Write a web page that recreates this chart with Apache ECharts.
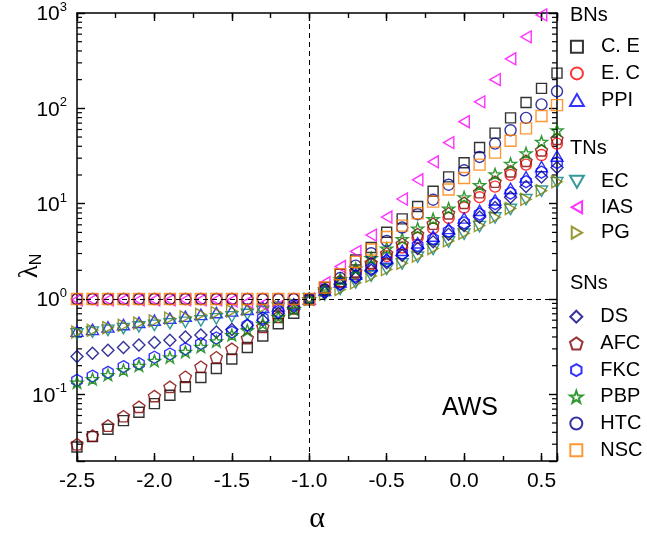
<!DOCTYPE html>
<html>
<head>
<meta charset="utf-8">
<script src="https://cdn.jsdelivr.net/npm/echarts@6/dist/echarts.min.js"></script>
<style>
  html, body { margin: 0; padding: 0; background: #fff; }
  #main { width: 647px; height: 538px; }
</style>
</head>
<body>
<div id="main"></div>
<script>
// alpha values (x)
var alpha = [-2.5, -2.4, -2.3, -2.2, -2.1, -2.0, -1.9, -1.8, -1.7, -1.6, -1.5, -1.4, -1.3, -1.2, -1.1, -1.0,
             -0.9, -0.8, -0.7, -0.6, -0.5, -0.4, -0.3, -0.2, -0.1, 0.0, 0.1, 0.2, 0.3, 0.4, 0.5, 0.6];

// lambda_N
var ceVals  = [0.028, 0.036, 0.043, 0.053, 0.065, 0.080, 0.098, 0.12, 0.15, 0.187, 0.235, 0.31, 0.41, 0.55, 0.71, 1,
               1.32, 1.82, 2.57, 3.47, 5.01, 6.92, 9.33, 13.5, 19.1, 26.9, 38.9, 55.0, 79.4, 115, 162, 234];
var ecbVals = [1, 1, 1, 1, 1, 1, 1, 1, 1, 1, 1, 1, 1, 1, 1, 1,
               1.23, 1.51, 1.86, 2.29, 2.82, 3.47, 4.37, 5.50, 7.08, 9.12, 11.7, 15.1, 20.0, 25.7, 32.4, 42.7];
var ppiVals = [0.46, 0.48, 0.51, 0.54, 0.57, 0.60, 0.63, 0.66, 0.69, 0.72, 0.75, 0.78, 0.82, 0.85, 0.89, 1,
               1.23, 1.51, 1.82, 2.24, 2.69, 3.24, 3.89, 4.57, 5.50, 7.08, 8.51, 11.0, 14.5, 19.1, 24.5, 31.6];
var ectVals = [0.43, 0.45, 0.47, 0.49, 0.51, 0.53, 0.55, 0.57, 0.59, 0.62, 0.65, 0.69, 0.74, 0.80, 0.87, 1,
               1.10, 1.26, 1.48, 1.74, 2.04, 2.34, 2.75, 3.31, 3.98, 4.79, 5.75, 7.08, 8.71, 11.0, 13.5, 16.6];
var iasVals = [0.98, 0.98, 0.98, 0.98, 0.98, 0.98, 0.98, 0.98, 0.98, 0.98, 0.96, 0.93, 0.88, 0.84, 0.87, 1,
               1.48, 2.19, 3.16, 4.68, 7.24, 11.2, 17.8, 27.5, 43.7, 72.4, 117, 200, 331, 562, 955, 1585];
var pgVals  = [0.45, 0.47, 0.50, 0.53, 0.56, 0.59, 0.63, 0.65, 0.69, 0.72, 0.75, 0.78, 0.82, 0.845, 0.88, 1,
               1.12, 1.26, 1.48, 1.74, 2.04, 2.37, 2.82, 3.39, 4.07, 4.90, 5.89, 7.19, 8.91, 11.1, 13.7, 17.0];
var dsVals  = [0.25, 0.27, 0.29, 0.31, 0.33, 0.35, 0.37, 0.40, 0.42, 0.45, 0.48, 0.53, 0.60, 0.71, 0.82, 1,
               1.17, 1.41, 1.66, 2.00, 2.40, 2.88, 3.39, 3.98, 4.79, 5.89, 7.24, 9.12, 11.7, 15.1, 19.1, 24.0];
var afcVals = [0.030, 0.037, 0.047, 0.059, 0.074, 0.096, 0.12, 0.153, 0.195, 0.245, 0.30, 0.39, 0.51, 0.65, 0.80, 1,
               1.26, 1.55, 1.95, 2.40, 3.02, 3.80, 4.79, 6.17, 7.94, 10.2, 13.2, 17.0, 21.9, 28.2, 36.3, 47.9];
var fkcVals = [0.14, 0.155, 0.17, 0.195, 0.21, 0.245, 0.265, 0.30, 0.34, 0.39, 0.45, 0.53, 0.63, 0.74, 0.86, 1,
               1.20, 1.45, 1.74, 2.09, 2.51, 3.02, 3.63, 4.27, 5.13, 6.31, 7.76, 10.0, 12.9, 17.0, 21.4, 26.9];
var pbpVals = [0.133, 0.145, 0.16, 0.18, 0.20, 0.225, 0.245, 0.28, 0.315, 0.36, 0.42, 0.47, 0.55, 0.65, 0.78, 1,
               1.26, 1.62, 2.09, 2.69, 3.39, 4.27, 5.50, 6.92, 8.91, 11.7, 15.7, 20.4, 26.3, 33.9, 44.7, 58.9];
var htcVals = [1, 1, 1, 1, 1, 1, 1, 1, 1, 1, 1, 1, 1, 1, 1, 1,
               1.26, 1.66, 2.24, 3.02, 4.07, 5.62, 7.76, 11.0, 15.8, 22.4, 30.9, 42.7, 58.9, 79.4, 110, 151];
var nscVals = [1, 1, 1, 1, 1, 1, 1, 1, 1, 1, 1, 1, 1, 1, 1, 1,
               1.32, 1.82, 2.45, 3.31, 4.47, 5.89, 7.94, 10.5, 14.1, 18.6, 25.7, 34.3, 45.7, 61.7, 83.2, 108];

// minor ticks of the log axis
var minorVals = [0.03, 0.04, 0.05, 0.06, 0.07, 0.08, 0.09,
                 0.2, 0.3, 0.4, 0.5, 0.6, 0.7, 0.8, 0.9,
                 2, 3, 4, 5, 6, 7, 8, 9,
                 20, 30, 40, 50, 60, 70, 80, 90,
                 200, 300, 400, 500, 600, 700, 800, 900];

var X_MIN = -2.5, X_MAX = 0.6, Y_MIN = 0.02, Y_MAX = 1000;
var FONT = 'Liberation Sans';

// symbols (all paths so the legend keeps their aspect)
var SYM_SQUARE = 'path://M0,0 L10,0 L10,10 L0,10 Z';
var SYM_UP    = 'path://M5,0 L10,8.66 L0,8.66 Z';
var SYM_DOWN  = 'path://M0,0 L10,0 L5,8.66 Z';
var SYM_LEFT  = 'path://M0,5 L8.66,0 L8.66,10 Z';
var SYM_RIGHT = 'path://M0,0 L8.66,5 L0,10 Z';
var SYM_DIAM  = 'path://M5,0 L10,5 L5,10 L0,5 Z';
var SYM_PENT  = 'path://M10,0 L19.51,6.91 L15.88,18.09 L4.12,18.09 L0.49,6.91 Z';
var SYM_HEX   = 'path://M5,0 L9.33,2.5 L9.33,7.5 L5,10 L0.67,7.5 L0.67,2.5 Z';
var SYM_STAR  = 'path://M10,0 L12.35,6.76 L19.51,6.91 L13.8,11.24 L15.88,18.09 L10,14 L4.12,18.09 L6.2,11.24 L0.49,6.91 L7.65,6.76 Z';

function pairs(vals) {
    return alpha.map(function (a, i) { return [a, vals[i]]; });
}

function mk(name, vals, symbol, color, size) {
    return {
        name: name,
        type: 'scatter',
        data: pairs(vals),
        symbol: symbol,
        symbolSize: size || 11,
        symbolKeepAspect: true,
        itemStyle: { color: 'rgba(0,0,0,0)', borderColor: color, borderWidth: 1.4 },
        emphasis: { disabled: true },
        z: 3
    };
}

var series = [
    mk('C. E', ceVals, SYM_SQUARE, '#000000', 10),
    mk('E. C', ecbVals, 'circle', '#ff0000'),
    mk('PPI', ppiVals, SYM_UP, '#0000ff', 12),
    mk('EC', ectVals, SYM_DOWN, '#008080', 12),
    mk('IAS', iasVals, SYM_LEFT, '#ff00ff', 12),
    mk('PG', pgVals, SYM_RIGHT, '#808000', 12),
    mk('DS', dsVals, SYM_DIAM, '#000080', 12),
    mk('AFC', afcVals, SYM_PENT, '#800000', 12),
    mk('FKC', fkcVals, SYM_HEX, '#0000ff', 12),
    mk('PBP', pbpVals, SYM_STAR, '#008000', 12),
    mk('HTC', htcVals, 'circle', '#000090'),
    mk('NSC', nscVals, SYM_SQUARE, '#ff8000', 11)
];

// dashed guide lines
series[0].markLine = {
    silent: true,
    symbol: ['none', 'none'],
    label: { show: false },
    lineStyle: { color: '#000', type: [5, 4], width: 1 },
    data: [{ xAxis: -1 }, { yAxis: 1 }]
};

// minor ticks on the left and right of the log axis
series.push({
    type: 'custom',
    silent: true,
    data: minorVals.map(function (v) { return [X_MIN, v]; }),
    renderItem: function (params, api) {
        var v = api.value(1);
        var pl = api.coord([X_MIN, v]);
        var pr = api.coord([X_MAX, v]);
        var st = { stroke: '#000', lineWidth: 1.2 };
        return {
            type: 'group',
            children: [
                { type: 'line', shape: { x1: pl[0], y1: pl[1], x2: pl[0] + 5, y2: pl[1] }, style: st },
                { type: 'line', shape: { x1: pr[0] - 5, y1: pr[1], x2: pr[0], y2: pr[1] }, style: st }
            ]
        };
    },
    z: 2
});

function xAxisCfg(pos, interval, len, withLabel, withLine) {
    return {
        type: 'value',
        position: pos,
        min: X_MIN, max: X_MAX, interval: interval,
        axisLine: { show: withLine, onZero: false, lineStyle: { color: '#000', width: 1.5 } },
        axisTick: { show: true, inside: true, length: len, lineStyle: { color: '#000', width: 1.4 } },
        axisLabel: {
            show: withLabel,
            margin: 10,
            color: '#000',
            fontSize: 21,
            fontFamily: FONT,
            formatter: function (v) { return v > 0.55 ? '' : v.toFixed(1); }
        },
        splitLine: { show: false }
    };
}

var xMain = xAxisCfg('bottom', 0.5, 8, true, true);
xMain.name = 'α';
xMain.nameLocation = 'middle';
xMain.nameGap = 43;
xMain.nameTextStyle = { fontSize: 30, fontFamily: 'Liberation Serif', color: '#000' };

function yAxisCfg(pos, withLabel) {
    return {
        type: 'log',
        logBase: 10,
        position: pos,
        min: Y_MIN, max: Y_MAX,
        axisLine: { show: true, onZero: false, lineStyle: { color: '#000', width: 1.5 } },
        axisTick: { show: true, inside: true, length: 8, lineStyle: { color: '#000', width: 1.4 } },
        axisLabel: {
            show: withLabel,
            margin: 10,
            formatter: function (v) {
                var e = Math.round(Math.log10(v));
                if (Math.abs(v / Math.pow(10, e) - 1) > 1e-6) return '';
                return '{b|10}{s|' + e + '}';
            },
            rich: {
                b: { fontSize: 21, fontFamily: FONT, color: '#000', lineHeight: 24, verticalAlign: 'bottom' },
                s: { fontSize: 13, fontFamily: FONT, color: '#000', verticalAlign: 'top' }
            }
        },
        splitLine: { show: false }
    };
}

function legendCfg(names, top, gap) {
    return {
        data: names,
        orient: 'vertical',
        left: 564,
        top: top,
        itemWidth: 38,
        itemHeight: 12,
        itemGap: gap,
        symbolKeepAspect: true,
        selectedMode: false,
        textStyle: { fontSize: 20, fontFamily: FONT, color: '#000', lineHeight: 20 }
    };
}

function header(text, y) {
    return {
        type: 'text', x: 570, y: y,
        style: { text: text, fontSize: 20, fontFamily: FONT, fill: '#000', verticalAlign: 'middle' }
    };
}

var chart = echarts.init(document.getElementById('main'), null, { renderer: 'canvas' });
chart.setOption({
    animation: false,
    backgroundColor: '#fff',
    grid: { left: 77, right: 90, top: 13, bottom: 77, containLabel: false, outerBoundsMode: 'none' },
    xAxis: [
        xMain,
        xAxisCfg('bottom', 0.25, 5, false, false),
        xAxisCfg('top', 0.5, 8, false, true),
        xAxisCfg('top', 0.25, 5, false, false)
    ],
    yAxis: [yAxisCfg('left', true), yAxisCfg('right', false)],
    legend: [
        legendCfg(['C. E', 'E. C', 'PPI'], 31.7, 6.7),
        legendCfg(['EC', 'IAS', 'PG'], 166.7, 5.5),
        legendCfg(['DS', 'AFC', 'FKC', 'PBP', 'HTC', 'NSC'], 301.7, 6.7)
    ],
    graphic: [
        header('BNs', 15),
        header('TNs', 148),
        header('SNs', 283),
        {
            type: 'text', x: 470, y: 408,
            style: { text: 'AWS', fontSize: 25, fontFamily: FONT, fill: '#000', align: 'center', verticalAlign: 'middle' }
        },
        {
            type: 'text', x: 30, y: 266, rotation: Math.PI / 2,
            style: {
                text: '{l|λ}{n|N}',
                align: 'center', verticalAlign: 'middle',
                rich: {
                    l: { fontSize: 27, fontFamily: 'Liberation Serif', fill: '#000', lineHeight: 30 },
                    n: { fontSize: 16, fontFamily: FONT, fill: '#000', verticalAlign: 'bottom' }
                }
            }
        }
    ],
    series: series
});
</script>
</body>
</html>
